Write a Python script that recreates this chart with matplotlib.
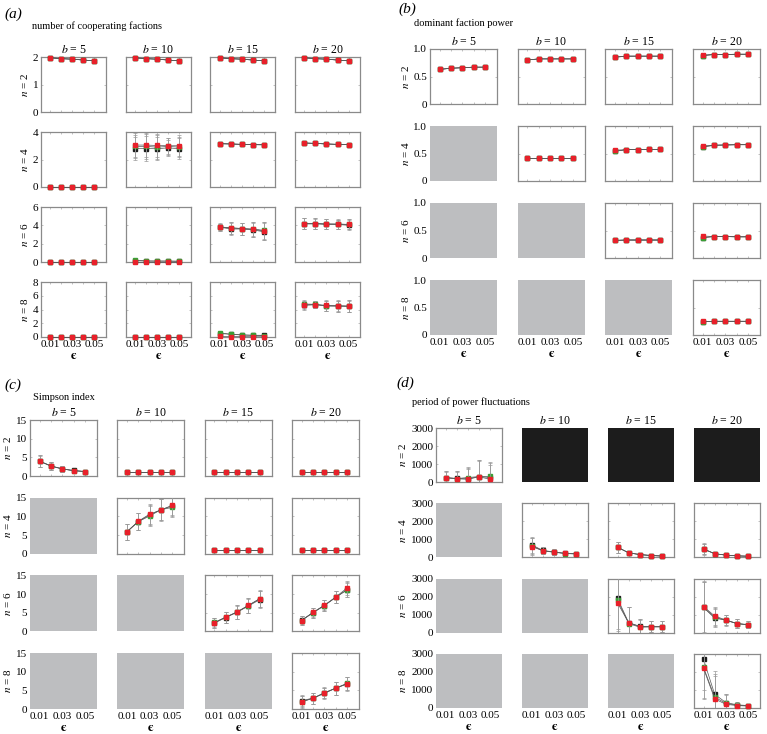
import numpy as np
import matplotlib.pyplot as plt

plt.rcParams['font.family'] = ['Liberation Serif', 'DejaVu Serif']
plt.rcParams['mathtext.fontset'] = 'stix'

eps = [0.01, 0.02, 0.03, 0.04, 0.05]
b_vals = [5, 10, 15, 20]
n_vals = [2, 4, 6, 8]

# None = grey cell (not applicable), 'K' = black cell
# (a) number of cooperating factions
coop_red = [
    [[1.97, 1.94, 1.92, 1.89, 1.86]] * 4,
    [[0.02] * 5, [3.05, 3.05, 3.02, 3.0, 3.0], [3.15, 3.13, 3.1, 3.08, 3.07], [3.2, 3.17, 3.13, 3.1, 3.08]],
    [[0.02] * 5, [0.05] * 5, [3.8, 3.75, 3.65, 3.55, 3.4], [4.2, 4.2, 4.15, 4.12, 4.1]],
    [[0.02] * 5, [0.02] * 5, [0.1, 0.05, 0.05, 0.03, 0.03], [4.7, 4.7, 4.6, 4.55, 4.5]],
]
coop_black = [
    [[1.97, 1.94, 1.92, 1.89, 1.86]] * 4,
    [[0.02] * 5, [2.8, 2.8, 2.78, 2.85, 2.78], [3.15, 3.13, 3.1, 3.08, 3.07], [3.2, 3.17, 3.13, 3.1, 3.08]],
    [[0.02] * 5, [0.15, 0.1, 0.1, 0.1, 0.08], [3.8, 3.6, 3.6, 3.5, 3.3], [4.15, 4.15, 4.1, 4.1, 4.0]],
    [[0.02] * 5, [0.02] * 5, [0.5, 0.4, 0.3, 0.25, 0.25], [4.6, 4.7, 4.5, 4.5, 4.45]],
]
coop_green = [
    [[1.97, 1.94, 1.92, 1.89, 1.86]] * 4,
    [[0.02] * 5, [2.95, 2.95, 2.9, 2.95, 2.9], [3.15, 3.13, 3.1, 3.08, 3.07], [3.2, 3.17, 3.13, 3.1, 3.08]],
    [[0.02] * 5, [0.2, 0.12, 0.1, 0.1, 0.08], [3.85, 3.7, 3.65, 3.6, 3.45], [4.2, 4.2, 4.15, 4.15, 4.1]],
    [[0.02] * 5, [0.02] * 5, [0.6, 0.4, 0.3, 0.25, 0.2], [4.8, 4.75, 4.55, 4.5, 4.5]],
]
coop_err = [
    [[0.02] * 5] * 4,
    [[0] * 5, [0.85, 0.9, 0.85, 0.6, 0.75], [0.05] * 5, [0.05] * 5],
    [[0] * 5, [0.1] * 5, [0.4, 0.65, 0.65, 0.8, 0.95], [0.6, 0.55, 0.55, 0.5, 0.55]],
    [[0] * 5, [0] * 5, [0.3, 0.2, 0.15, 0.1, 0.1], [0.6, 0.5, 0.75, 0.8, 0.85]],
]

# (b) dominant faction power
dom_red = [
    [[0.63, 0.65, 0.66, 0.67, 0.67], [0.80, 0.82, 0.82, 0.82, 0.82],
     [0.86, 0.87, 0.87, 0.87, 0.87], [0.89, 0.90, 0.90, 0.905, 0.905]],
    [None, [0.41] * 5, [0.56, 0.57, 0.57, 0.575, 0.575], [0.64, 0.65, 0.655, 0.66, 0.66]],
    [None, None, [0.33] * 5, [0.40, 0.39, 0.39, 0.385, 0.385]],
    [None, None, None, [0.25] * 5],
]
dom_black = [
    [[0.63, 0.65, 0.66, 0.67, 0.67], [0.80, 0.82, 0.82, 0.82, 0.82],
     [0.85, 0.87, 0.87, 0.87, 0.87], [0.88, 0.90, 0.90, 0.905, 0.905]],
    [None, [0.41] * 5, [0.54, 0.57, 0.57, 0.575, 0.575], [0.62, 0.65, 0.655, 0.66, 0.66]],
    [None, None, [0.32, 0.33, 0.33, 0.33, 0.33], [0.37, 0.39, 0.39, 0.385, 0.385]],
    [None, None, None, [0.24, 0.25, 0.25, 0.25, 0.25]],
]
dom_green = dom_black
dom_err = [
    [[0.01] * 5] * 4,
    [None, [0.01] * 5, [0.01] * 5, [0.015] * 5],
    [None, None, [0.01] * 5, [0.02] * 5],
    [None, None, None, [0.01] * 5],
]

# (c) Simpson index
simp_red = [
    [[4.0, 2.7, 1.9, 1.4, 1.2], [1.0] * 5, [1.0] * 5, [1.0] * 5],
    [None, [5.8, 8.7, 10.6, 11.7, 13.0], [1.0] * 5, [1.0] * 5],
    [None, None, [2.3, 3.8, 5.2, 7.0, 8.7], [2.9, 5.1, 7.0, 9.2, 11.6]],
    [None, None, None, [2.0, 2.9, 4.3, 5.6, 6.8]],
]
simp_black = [
    [[3.9, 2.7, 1.9, 1.5, 1.2], [1.0] * 5, [1.0] * 5, [1.0] * 5],
    [None, [5.9, 8.6, 10.4, 11.8, 12.8], [1.0] * 5, [1.0] * 5],
    [None, None, [2.2, 3.7, 5.1, 6.8, 8.5], [3.0, 5.0, 6.9, 9.1, 11.2]],
    [None, None, None, [2.3, 2.9, 4.2, 5.6, 6.7]],
]
simp_green = [
    [[4.0, 2.6, 1.9, 1.4, 1.2], [1.0] * 5, [1.0] * 5, [1.0] * 5],
    [None, [5.9, 8.6, 10.1, 11.8, 12.4], [1.0] * 5, [1.0] * 5],
    [None, None, [2.4, 3.8, 5.2, 6.9, 8.8], [2.9, 5.0, 6.9, 9.1, 11.1]],
    [None, None, None, [1.9, 2.9, 4.4, 5.6, 6.9]],
]
simp_err = [
    [[1.5, 1.1, 0.7, 0.4, 0.3], [0.1] * 5, [0.1] * 5, [0.1] * 5],
    [None, [2.1, 2.3, 2.7, 2.9, 2.7], [0.1] * 5, [0.1] * 5],
    [None, None, [1.3, 1.5, 1.8, 2.0, 2.2], [1.1, 1.3, 1.4, 1.6, 1.9]],
    [None, None, None, [1.5, 1.4, 1.4, 1.7, 1.8]],
]

# (d) period of power fluctuations
per_red = [
    [[230, 180, 150, 290, 150], 'K', 'K', 'K'],
    [None, [600, 370, 290, 220, 200], [550, 250, 150, 100, 70], [450, 200, 120, 80, 60]],
    [None, None, [1650, 550, 330, 320, 320], [1450, 920, 700, 500, 430]],
    [None, None, None, [2200, 500, 200, 130, 100]],
]
per_black = [
    [[250, 200, 180, 300, 250], 'K', 'K', 'K'],
    [None, [700, 380, 300, 220, 190], [560, 250, 150, 100, 70], [470, 200, 120, 80, 60]],
    [None, None, [1900, 550, 350, 330, 330], [1400, 800, 700, 500, 450]],
    [None, None, None, [2700, 750, 300, 170, 130]],
]
per_green = [
    [[240, 190, 250, 300, 310], 'K', 'K', 'K'],
    [None, [650, 360, 280, 210, 180], [560, 250, 150, 100, 70], [460, 200, 120, 80, 60]],
    [None, None, [1800, 500, 300, 320, 320], [1400, 850, 680, 500, 430]],
    [None, None, None, [2250, 600, 250, 150, 120]],
]
per_err = [
    [[350, 400, 600, 900, 800], 'K', 'K', 'K'],
    [None, [450, 200, 150, 80, 80], [300, 80, 50, 30, 30], [300, 60, 40, 30, 30]],
    [None, None, [1700, 900, 400, 300, 300], [1400, 500, 300, 250, 200]],
    [None, None, None, [1700, 1300, 500, 150, 80]],
]

panels = [
    dict(tag='(a)', title='number of cooperating factions',
         red=coop_red, black=coop_black, green=coop_green, err=coop_err,
         ylims=[(0, 2), (0, 4), (0, 6), (0, 8)],
         yticks=[[0, 1, 2], [0, 2, 4], [0, 2, 4, 6], [0, 2, 4, 6, 8]],
         left=41, top=57, dx=84.7, dy=75, w=65, h=55, tagxy=(4, 14), titlexy=(32, 26)),
    dict(tag='(b)', title='dominant faction power',
         red=dom_red, black=dom_black, green=dom_green, err=dom_err,
         ylims=[(0, 1)] * 4, yticks=[[0, 0.5, 1.0]] * 4,
         left=430, top=49, dx=87.7, dy=77, w=67, h=55, tagxy=(398, 9), titlexy=(414, 23)),
    dict(tag='(c)', title='Simpson index',
         red=simp_red, black=simp_black, green=simp_green, err=simp_err,
         ylims=[(0, 15)] * 4, yticks=[[0, 5, 10, 15]] * 4,
         left=30, top=420, dx=87.3, dy=77.7, w=67, h=56, tagxy=(4, 385), titlexy=(33, 397)),
    dict(tag='(d)', title='period of power fluctuations',
         red=per_red, black=per_black, green=per_green, err=per_err,
         ylims=[(0, 3000)] * 4, yticks=[[0, 1000, 2000, 3000]] * 4,
         left=436, top=428, dx=86, dy=75.3, w=66, h=54, tagxy=(396, 383), titlexy=(412, 402)),
]

W, H = 767, 734
fig = plt.figure(figsize=(W / 100, H / 100), dpi=100)

RED = '#e8202a'
GREEN = '#3a9f35'
BLACK = '#1c1c1c'
EGRAY = '#9a9a9a'
SPINE = '#8a8a8a'


def fmt(v):
    if v == 0:
        return '0'
    if isinstance(v, float):
        return f'{v:.1f}'
    return str(v)


for p in panels:
    fig.text(p['tagxy'][0] / W, 1 - p['tagxy'][1] / H, p['tag'], fontsize=11,
             style='italic', va='center', ha='left')
    fig.text(p['titlexy'][0] / W, 1 - p['titlexy'][1] / H, p['title'], fontsize=7.5,
             va='center', ha='left')
    for i in range(4):
        for j in range(4):
            x0 = p['left'] + j * p['dx']
            y0 = p['top'] + i * p['dy']
            ax = fig.add_axes([x0 / W, 1 - (y0 + p['h']) / H, p['w'] / W, p['h'] / H])
            ax.set_xlim(0.0015, 0.0605)
            ax.set_ylim(*p['ylims'][i])
            ax.set_xticks(eps)
            ax.set_yticks(p['yticks'][i])
            ax.tick_params(direction='in', length=1.5, width=0.5, color='#aaaaaa',
                           top=True, right=True, labelsize=8, pad=2)
            for s in ax.spines.values():
                s.set_color(SPINE)
                s.set_linewidth(0.9)
            cell = p['red'][i][j]
            if cell is None or cell == 'K':
                ax.set_facecolor('#bdbec0' if cell is None else BLACK)
                for s in ax.spines.values():
                    s.set_visible(False)
                ax.tick_params(length=0)
            else:
                err = p['err'][i][j]
                for key, col, z in [('black', BLACK, 3), ('green', GREEN, 4), ('red', RED, 5)]:
                    vals = p[key][i][j]
                    eb = ax.errorbar(eps, vals, yerr=err, color='#555555', lw=0.5,
                                     ecolor=EGRAY, elinewidth=0.5, capsize=1.2, capthick=0.5,
                                     marker='s', markersize=3.3, mfc=col, mec=col, zorder=z)
                    # markers sitting on the frame stay whole, bars stay clipped
                    eb[0].set_clip_on(False)
            if j == 0:
                ax.set_yticklabels([fmt(v) for v in p['yticks'][i]])
                ax.set_ylabel(f'$n$ = {n_vals[i]}', fontsize=8, labelpad=2)
            else:
                ax.set_yticklabels([])
            if i == 3:
                ax.set_xticklabels(['0.01', '', '0.03', '', '0.05'])
                ax.set_xlabel('\u03f5', fontsize=9, labelpad=1,
                              family=['STIXGeneral', 'DejaVu Sans'], fontweight='bold')
            else:
                ax.set_xticklabels([])
            if i == 0:
                ax.set_title(f'$b$ = {b_vals[j]}', fontsize=8.5, pad=3)

fig.savefig('out.png', dpi=100)
